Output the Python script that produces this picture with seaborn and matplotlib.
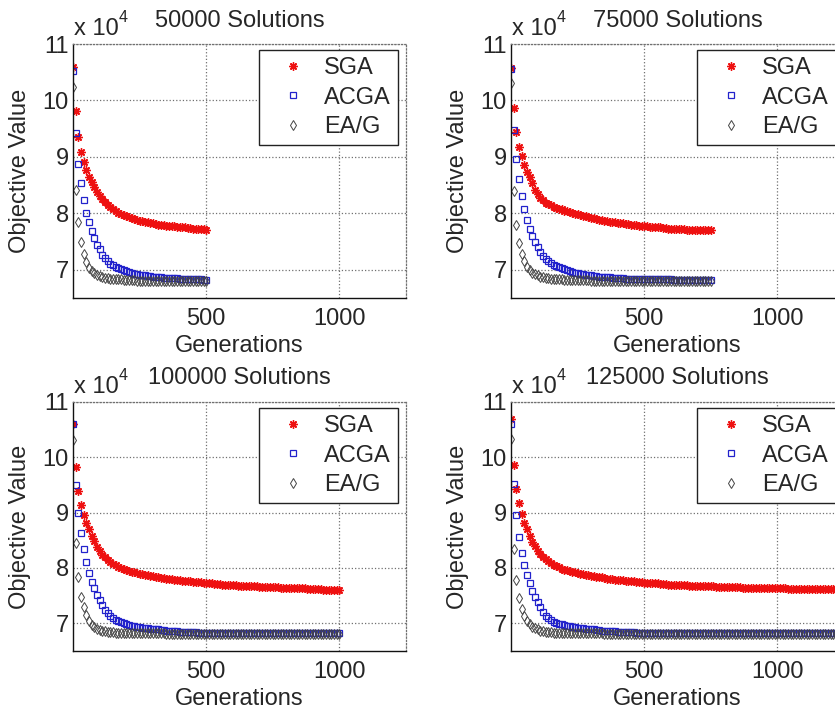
import matplotlib
matplotlib.use('Agg')
import matplotlib.pyplot as plt
import seaborn as sns

sns.set_style('white')
plt.rcParams['font.family'] = ['Liberation Sans', 'DejaVu Sans']
plt.rcParams['font.size'] = 17

# objective values in units of 1e4, one marker every 10 generations (gen 1, 10, 20, ...)
titles = ['50000 Solutions', '75000 Solutions', '100000 Solutions', '125000 Solutions']
last_gen = [500, 750, 1000, 1250]

# 50000 solutions
sga_50k = [10.59, 9.81, 9.36, 9.09, 8.91, 8.76, 8.65, 8.55, 8.46, 8.38, 8.31, 8.25, 8.20,
           8.15, 8.11, 8.07, 8.04, 8.01, 7.99, 7.97, 7.95, 7.93, 7.91, 7.90, 7.88, 7.87,
           7.86, 7.85, 7.84, 7.83, 7.82, 7.81, 7.80, 7.80, 7.79, 7.78, 7.78, 7.77, 7.77,
           7.76, 7.76, 7.75, 7.75, 7.74, 7.74, 7.73, 7.73, 7.72, 7.72, 7.72, 7.71]
acga_50k = [10.53, 9.43, 8.88, 8.54, 8.24, 8.01, 7.84, 7.68, 7.56, 7.44, 7.36, 7.27, 7.21,
            7.15, 7.11, 7.08, 7.05, 7.03, 7.01, 6.99, 6.97, 6.96, 6.95, 6.93, 6.92, 6.91,
            6.90, 6.90, 6.89, 6.89, 6.88, 6.88, 6.87, 6.87, 6.86, 6.86, 6.86, 6.85, 6.85,
            6.85, 6.84, 6.84, 6.84, 6.84, 6.83, 6.83, 6.83, 6.83, 6.83, 6.82, 6.82]
eag_50k = [10.24, 8.42, 7.84, 7.50, 7.28, 7.13, 7.04, 6.98, 6.94, 6.91, 6.89, 6.87, 6.86,
           6.85, 6.84, 6.84, 6.83, 6.83, 6.83, 6.82, 6.82, 6.82, 6.82, 6.82, 6.81, 6.81,
           6.81, 6.81, 6.81, 6.81, 6.81, 6.81, 6.81, 6.81, 6.81, 6.81, 6.81, 6.81, 6.81,
           6.81, 6.81, 6.81, 6.81, 6.81, 6.81, 6.81, 6.81, 6.81, 6.81, 6.81, 6.81]

# 75000 solutions
sga_75k = [10.57, 9.86, 9.44, 9.18, 9.01, 8.86, 8.74, 8.64, 8.53,
           8.42, 8.34, 8.28, 8.23, 8.19, 8.16, 8.14, 8.12, 8.10, 8.08, 8.07, 8.05, 8.04,
           8.02, 8.01, 7.99,
           7.98, 7.97, 7.96, 7.95, 7.93, 7.92, 7.91, 7.90, 7.89, 7.88, 7.87, 7.86, 7.85,
           7.85, 7.84, 7.83, 7.83, 7.82, 7.81, 7.81, 7.80, 7.79, 7.79, 7.78, 7.78, 7.77,
           7.77, 7.76, 7.76, 7.75, 7.75, 7.75, 7.74, 7.74, 7.73, 7.73, 7.73, 7.72, 7.72,
           7.72, 7.72, 7.71, 7.71, 7.71, 7.71, 7.71, 7.70, 7.70, 7.70, 7.70, 7.70]
acga_75k = [10.56, 9.48, 8.96, 8.60, 8.30, 8.07, 7.88, 7.72, 7.60, 7.49, 7.40, 7.31,
            7.24, 7.19, 7.15, 7.12, 7.09, 7.07, 7.05, 7.03, 7.01, 6.99, 6.97, 6.96, 6.95,
            6.94, 6.93, 6.92, 6.91, 6.91, 6.90,
            6.89, 6.89, 6.88, 6.88, 6.87, 6.87, 6.87, 6.86, 6.86,
            6.85, 6.85, 6.85, 6.84, 6.84, 6.84, 6.84, 6.83, 6.83, 6.83, 6.83,
            6.83, 6.83, 6.83, 6.83, 6.83, 6.83, 6.83, 6.83, 6.83, 6.83, 6.82, 6.82, 6.82,
            6.82, 6.82, 6.82, 6.82, 6.82, 6.82, 6.82, 6.82, 6.82, 6.82, 6.82, 6.82]
eag_75k = [10.31, 8.40, 7.79, 7.48, 7.28, 7.15, 7.05, 6.99, 6.95, 6.92, 6.90, 6.88, 6.87,
           6.86, 6.85, 6.84, 6.84, 6.83, 6.83, 6.83,
           6.82, 6.82, 6.82, 6.82, 6.82, 6.82, 6.82, 6.82, 6.82, 6.82,
           6.81, 6.81, 6.81, 6.81, 6.81, 6.81, 6.81, 6.81, 6.81, 6.81, 6.81, 6.81, 6.81,
           6.81, 6.81, 6.81, 6.81, 6.81, 6.81, 6.81, 6.81, 6.81, 6.81, 6.81, 6.81, 6.81,
           6.81, 6.81, 6.81, 6.81, 6.81, 6.81, 6.81, 6.81, 6.81, 6.81, 6.81, 6.81, 6.81,
           6.81, 6.81, 6.81, 6.81, 6.81, 6.81, 6.81]

# 100000 solutions
sga_100k = [10.61, 9.83, 9.39, 9.14, 8.95, 8.81, 8.70, 8.58, 8.49,
            8.38, 8.30, 8.24, 8.19, 8.15, 8.11, 8.08, 8.05, 8.02, 8.00, 7.98, 7.96, 7.95,
            7.93, 7.92, 7.91,
            7.90, 7.89, 7.88, 7.87, 7.86, 7.85, 7.84, 7.83, 7.82, 7.82, 7.81, 7.80, 7.80,
            7.79, 7.78, 7.78, 7.77, 7.77, 7.76, 7.76, 7.75, 7.75, 7.74, 7.74, 7.73, 7.72,
            7.72, 7.72, 7.71, 7.71, 7.71, 7.70, 7.70, 7.70, 7.69, 7.69, 7.69, 7.68, 7.68,
            7.68, 7.68, 7.67, 7.67, 7.67, 7.67, 7.66, 7.66, 7.66, 7.66, 7.65, 7.65,
            7.65, 7.65, 7.64, 7.64, 7.64, 7.64, 7.64, 7.63, 7.63, 7.63, 7.63, 7.63, 7.62,
            7.62, 7.62, 7.62, 7.62, 7.62, 7.61, 7.61, 7.61, 7.61, 7.61, 7.61, 7.61]
acga_100k = [10.61, 9.50, 8.99, 8.64, 8.34, 8.11, 7.91, 7.75, 7.63, 7.52, 7.43, 7.33, 7.25,
             7.18,
             7.13, 7.09, 7.06, 7.04, 7.02, 7.00, 6.99, 6.97, 6.96, 6.95, 6.94, 6.93,
             6.92, 6.92, 6.91, 6.90, 6.90, 6.89, 6.89, 6.88, 6.88, 6.87, 6.87, 6.86, 6.86,
             6.86, 6.85,
             6.85, 6.85, 6.84, 6.84, 6.84, 6.84, 6.83, 6.83, 6.83, 6.83,
             6.83, 6.83, 6.83, 6.83, 6.83, 6.83, 6.83, 6.83, 6.83, 6.83, 6.83, 6.83, 6.83,
             6.83, 6.83, 6.83, 6.83, 6.83, 6.83, 6.83,
             6.82, 6.82, 6.82, 6.82, 6.82, 6.82, 6.82, 6.82, 6.82, 6.82, 6.82, 6.82, 6.82,
             6.82, 6.82, 6.82, 6.82, 6.82, 6.82, 6.82, 6.82, 6.82, 6.82, 6.82, 6.82, 6.82,
             6.82, 6.82, 6.82, 6.82]
eag_100k = [10.31, 8.46, 7.84, 7.48, 7.29, 7.15, 7.05, 6.97, 6.93, 6.90, 6.88, 6.87, 6.86,
            6.85, 6.84, 6.84, 6.83, 6.83, 6.83, 6.82,
            6.82, 6.82, 6.82, 6.82, 6.82, 6.82, 6.82, 6.82, 6.82, 6.82, 6.82, 6.82, 6.82,
            6.82, 6.82,
            6.81, 6.81, 6.81, 6.81, 6.81, 6.81, 6.81, 6.81, 6.81, 6.81, 6.81, 6.81, 6.81,
            6.81, 6.81, 6.81, 6.81, 6.81, 6.81, 6.81, 6.81, 6.81, 6.81, 6.81, 6.81, 6.81,
            6.81, 6.81, 6.81, 6.81, 6.81, 6.81, 6.81, 6.81, 6.81, 6.81, 6.81, 6.81, 6.81,
            6.81, 6.81, 6.81, 6.81, 6.81, 6.81, 6.81, 6.81, 6.81, 6.81, 6.81, 6.81, 6.81,
            6.81, 6.81, 6.81, 6.81, 6.81, 6.81, 6.81, 6.81, 6.81, 6.81, 6.81, 6.81, 6.81,
            6.81]

# 125000 solutions
sga_125k = [10.69, 9.86, 9.42, 9.17, 8.97, 8.82, 8.70, 8.58, 8.47,
            8.39, 8.31, 8.25, 8.20, 8.16, 8.12, 8.09, 8.06, 8.03, 8.01, 7.99, 7.97, 7.96,
            7.94, 7.93, 7.92,
            7.91, 7.90, 7.89, 7.88, 7.87, 7.86, 7.85, 7.84, 7.83, 7.83, 7.82, 7.81, 7.81,
            7.80, 7.79, 7.79, 7.78, 7.78, 7.77, 7.77, 7.76, 7.76, 7.75, 7.75, 7.74, 7.73,
            7.73, 7.73, 7.72, 7.72, 7.72, 7.71, 7.71, 7.71, 7.70, 7.70, 7.70, 7.70, 7.69,
            7.69, 7.69, 7.69, 7.68, 7.68, 7.68, 7.68, 7.68, 7.67, 7.67, 7.67, 7.67,
            7.67, 7.66, 7.66, 7.66, 7.66, 7.66, 7.65, 7.65, 7.65, 7.65, 7.65, 7.64, 7.64,
            7.64, 7.64, 7.64, 7.64, 7.63, 7.63, 7.63, 7.63, 7.63, 7.63, 7.63, 7.63,
            7.63, 7.63, 7.63, 7.62, 7.62, 7.62, 7.62, 7.62, 7.62, 7.62, 7.62, 7.62, 7.62,
            7.62, 7.62, 7.62, 7.62, 7.62, 7.62, 7.62, 7.62, 7.62, 7.62, 7.62, 7.62]
acga_125k = [10.61, 9.51, 8.95, 8.56, 8.28, 8.05, 7.87, 7.72, 7.59, 7.48, 7.38, 7.29, 7.21,
             7.14,
             7.09, 7.06, 7.03, 7.01, 6.99, 6.98, 6.97, 6.96, 6.95, 6.94, 6.93, 6.92,
             6.91, 6.91, 6.90, 6.90, 6.89, 6.89, 6.88, 6.88, 6.87, 6.87, 6.87, 6.86, 6.86,
             6.86, 6.85,
             6.85, 6.85, 6.84, 6.84, 6.84, 6.84, 6.83, 6.83, 6.83, 6.83,
             6.83, 6.83, 6.83, 6.83, 6.83, 6.83, 6.83, 6.83, 6.83, 6.83, 6.83, 6.83, 6.83,
             6.83, 6.83, 6.83, 6.83, 6.83, 6.83, 6.83, 6.83, 6.83, 6.83, 6.83, 6.83,
             6.82, 6.82, 6.82, 6.82, 6.82, 6.82, 6.82, 6.82, 6.82, 6.82, 6.82, 6.82, 6.82,
             6.82, 6.82, 6.82, 6.82, 6.82, 6.82, 6.82, 6.82, 6.82, 6.82, 6.82, 6.82, 6.82,
             6.82, 6.82, 6.82, 6.82, 6.82, 6.82, 6.82, 6.82, 6.82, 6.82, 6.82, 6.82, 6.82,
             6.82, 6.82, 6.82, 6.82, 6.82, 6.82, 6.82, 6.82, 6.82, 6.82, 6.82]
eag_125k = [10.33, 8.34, 7.78, 7.45, 7.26, 7.13, 7.05, 6.98, 6.94, 6.91, 6.89, 6.87, 6.86,
            6.85, 6.84, 6.84, 6.83, 6.83, 6.83, 6.82,
            6.82, 6.82, 6.82, 6.82, 6.82, 6.82, 6.82, 6.82, 6.82, 6.82, 6.82, 6.82, 6.82,
            6.82, 6.82,
            6.81, 6.81, 6.81, 6.81, 6.81, 6.81, 6.81, 6.81, 6.81, 6.81, 6.81, 6.81, 6.81,
            6.81, 6.81, 6.81, 6.81, 6.81, 6.81, 6.81, 6.81, 6.81, 6.81, 6.81, 6.81, 6.81,
            6.81, 6.81, 6.81, 6.81, 6.81, 6.81, 6.81, 6.81, 6.81, 6.81, 6.81, 6.81, 6.81,
            6.81, 6.81, 6.81, 6.81, 6.81, 6.81, 6.81, 6.81, 6.81, 6.81, 6.81, 6.81, 6.81,
            6.81, 6.81, 6.81, 6.81, 6.81, 6.81, 6.81, 6.81, 6.81, 6.81, 6.81, 6.81, 6.81,
            6.81, 6.81, 6.81, 6.81, 6.81, 6.81, 6.81, 6.81, 6.81, 6.81, 6.81, 6.81, 6.81,
            6.81, 6.81, 6.81, 6.81, 6.81, 6.81, 6.81, 6.81, 6.81, 6.81, 6.81, 6.81, 6.81]

sga = [sga_50k, sga_75k, sga_100k, sga_125k]
acga = [acga_50k, acga_75k, acga_100k, acga_125k]
eag = [eag_50k, eag_75k, eag_100k, eag_125k]

W, H = 835, 713
# axes boxes in pixels: left, top, width, height (right column runs past the edge)
boxes = [(73, 44, 333, 254), (511, 44, 333, 254), (73, 402, 333, 249), (511, 402, 333, 249)]

fig = plt.figure(figsize=(W / 100, H / 100), dpi=100)

for i in range(4):
    l, t, w, h = boxes[i]
    ax = fig.add_axes([l / W, 1 - (t + h) / H, w / W, h / H])
    gens = [1] + list(range(10, last_gen[i] + 1, 10))
    for name, vals in [('sga', sga[i]), ('acga', acga[i]), ('eag', eag[i])]:
        assert len(vals) == len(gens), (titles[i], name, len(vals), len(gens))
    sns.lineplot(x=gens, y=sga[i], ax=ax, label='SGA', linestyle='none', errorbar=None,
                 marker=(8, 2, 0), markersize=6, mec='#ee1111', mew=1.0, color='#ee1111')
    sns.lineplot(x=gens, y=acga[i], ax=ax, label='ACGA', linestyle='none', errorbar=None,
                 marker='s', markersize=5, mfc='none', mec='#2222cc', mew=0.9, color='#2222cc')
    sns.lineplot(x=gens, y=eag[i], ax=ax, label='EA/G', linestyle='none', errorbar=None,
                 marker='d', markersize=5, mfc='none', mec='#444444', mew=0.7, color='#444444')

    ax.set_xlim(0, 1250)
    ax.set_ylim(6.5, 11)
    ax.set_xticks([500, 1000])
    ax.set_yticks([7, 8, 9, 10, 11])
    ax.grid(True, linestyle=':', color='#707070', linewidth=0.9)
    ax.tick_params(direction='in', length=4, width=0.8, labelsize=17)
    ax.tick_params(axis='x', pad=7.5)
    ax.tick_params(axis='y', pad=3)
    for s in ['left', 'bottom']:
        ax.spines[s].set_color('#111111')
        ax.spines[s].set_linewidth(1.0)
    for s in ['top', 'right']:
        ax.spines[s].set_color('#707070')
        ax.spines[s].set_linestyle(':')
        ax.spines[s].set_linewidth(0.9)

    ax.set_xlabel('Generations', fontsize=17)
    ax.set_ylabel('Objective Value', fontsize=17)
    ax.xaxis.set_label_coords(0.5, -37 / h)
    ax.yaxis.set_label_coords(-42 / w, 0.5)
    ax.set_title(titles[i], fontsize=17, pad=12.5 if i < 2 else 13.2)

    fig.text((l + 1) / W, 1 - (t - 9) / H, 'x 10', fontsize=17, va='baseline', ha='left')
    fig.text((l + 46) / W, 1 - (t - 22) / H, '4', fontsize=11.5, va='baseline', ha='left')

    leg = ax.legend(loc='upper right', bbox_to_anchor=(1 - 8 / w, 1 - 6 / h), borderaxespad=0,
                    numpoints=1, fontsize=17, borderpad=0.3, labelspacing=0.32,
                    handlelength=2.3, handletextpad=0.17, fancybox=False, framealpha=1)
    leg.get_frame().set_edgecolor('#222222')
    leg.get_frame().set_linewidth(1.0)

fig.savefig('out.png', dpi=100)
